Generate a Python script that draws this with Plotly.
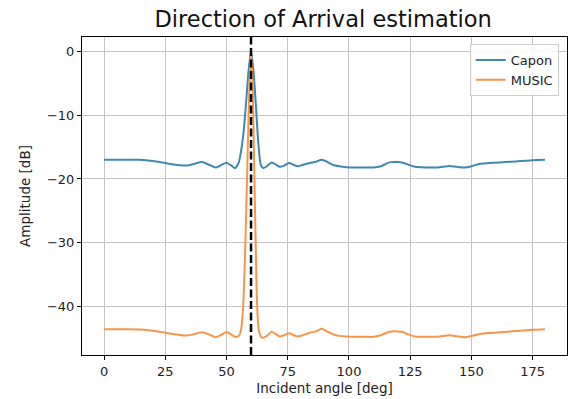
import plotly.graph_objects as go

# ---- data ----
angles = [0, 5, 10, 14, 18, 22, 25, 30, 34, 37, 40, 43, 45.5, 48, 50, 52, 53.5,
          55, 56, 57, 58, 59, 60, 61, 62, 63, 64, 65, 66.5, 68.4, 70, 71.8, 73.5,
          75.5, 77.5, 79, 81, 84, 86.5, 88.8, 91, 93.5, 96, 99, 103, 107, 110,
          113, 116.5, 120, 122, 124.5, 127, 131, 134, 137, 141, 144, 147.3, 150,
          153.5, 157, 161.6, 166, 170, 175, 180]

capon_db = [-17.0, -17.0, -17.0, -17.0, -17.1, -17.3, -17.5, -17.8, -17.9, -17.6,
            -17.35, -17.8, -18.2, -17.8, -17.45, -17.9, -18.3,
            -17.4, -15.5, -12.5, -8.0, -3.0, 0.0, -3.0, -8.5, -14.5, -17.8, -18.3,
            -18.0, -17.4, -17.7, -18.1, -17.9,
            -17.5, -17.8, -18.0, -17.8, -17.5, -17.3, -17.0, -17.3, -17.8, -18.0,
            -18.15, -18.2, -18.2, -18.2,
            -18.0, -17.4, -17.35, -17.45, -17.8, -18.1, -18.2, -18.2, -18.15, -17.95,
            -18.1, -18.2, -18.0,
            -17.6, -17.5, -17.4, -17.3, -17.2, -17.05, -17.0]

music_angles = [0, 5, 10, 14, 18, 22, 25, 30, 34, 37, 40, 43, 45.5, 48, 50, 52, 53.5,
                55, 56, 56.8, 57.7, 58.5, 59.3, 60, 60.7, 61.3, 61.9, 62.5, 63.3,
                64.5, 66.5, 68.4, 70, 71.8, 73.5,
                75.5, 77.5, 79, 81, 84, 86.5, 88.8, 91, 93.5, 96, 99, 103, 107, 110,
                113, 116.5, 120, 122, 124.5, 127, 131, 134, 137, 141, 144, 147.3, 150,
                153.5, 157, 161.6, 166, 170, 175, 180]

music_db = [-43.55, -43.55, -43.55, -43.6, -43.7, -43.9, -44.1, -44.4, -44.55, -44.3,
            -44.05, -44.4, -44.8, -44.4, -44.0, -44.4, -44.75,
            -44.6, -43.5, -40.0, -30.0, -18.0, -6.0, 0.0, -6.0, -18.0, -30.0, -40.0, -44.0,
            -44.9, -44.6, -43.95, -44.3, -44.7, -44.5,
            -44.2, -44.5, -44.7, -44.5, -44.1, -43.9, -43.5, -43.9, -44.35, -44.6,
            -44.7, -44.75, -44.75, -44.75,
            -44.5, -43.95, -43.9, -44.0, -44.4, -44.7, -44.75, -44.75, -44.7, -44.5,
            -44.65, -44.8, -44.6,
            -44.3, -44.15, -44.05, -43.9, -43.8, -43.65, -43.55]

doa_angle = 60

x_tick_vals = [0, 25, 50, 75, 100, 125, 150, 175]
x_tick_text = ["0", "25", "50", "75", "100", "125", "150", "175"]
y_tick_vals = [0, -10, -20, -30, -40]
y_tick_text = ["0", "\u221210", "\u221220", "\u221230", "\u221240"]

FONT = "DejaVu Sans"
TXT = "#222222"

fig = go.Figure()
fig.add_trace(go.Scatter(x=angles, y=capon_db, mode="lines", name="Capon",
                         line=dict(color="#3f88b0", width=2, shape="spline", smoothing=0.6)))
fig.add_trace(go.Scatter(x=music_angles, y=music_db, mode="lines", name="MUSIC",
                         line=dict(color="#f5964a", width=2, shape="spline", smoothing=0.6)))

fig.add_vline(x=doa_angle, line=dict(color="black", width=2.5, dash="8px,3.5px"), layer="above")

axis_common = dict(showline=True, mirror=True, linecolor="black", linewidth=1,
                   ticks="outside", ticklen=4, tickcolor="black",
                   showgrid=True, gridcolor="#c4c4c4", gridwidth=1, zeroline=False,
                   tickfont=dict(family=FONT, size=13, color=TXT))

fig.update_layout(
    width=574, height=399,
    margin=dict(l=82, r=7, t=37, b=44),
    paper_bgcolor="white", plot_bgcolor="white",
    font=dict(family=FONT, color=TXT),
    title=dict(text="Direction of Arrival estimation", x=0.563, xanchor="center",
               y=1 - 19 / 399, yanchor="middle", yref="container",
               font=dict(family=FONT, size=22.5, color="#111111")),
    xaxis=dict(range=[-9, 189], tickvals=x_tick_vals, ticktext=x_tick_text,
               title=dict(text="Incident angle [deg]", standoff=5,
                          font=dict(family=FONT, size=13.5, color=TXT)),
               **axis_common),
    yaxis=dict(range=[-47.6, 2.26], tickvals=y_tick_vals, ticktext=y_tick_text,
               title=dict(text="Amplitude [dB]", standoff=13,
                          font=dict(family=FONT, size=13.5, color=TXT)),
               **axis_common),
    legend=dict(x=0.983, y=0.978, xanchor="right", yanchor="top",
                bgcolor="rgba(255,255,255,0.85)", bordercolor="#cccccc", borderwidth=1,
                font=dict(family=FONT, size=13, color=TXT), itemwidth=30),
    showlegend=True,
)

fig.write_html("out.html")
